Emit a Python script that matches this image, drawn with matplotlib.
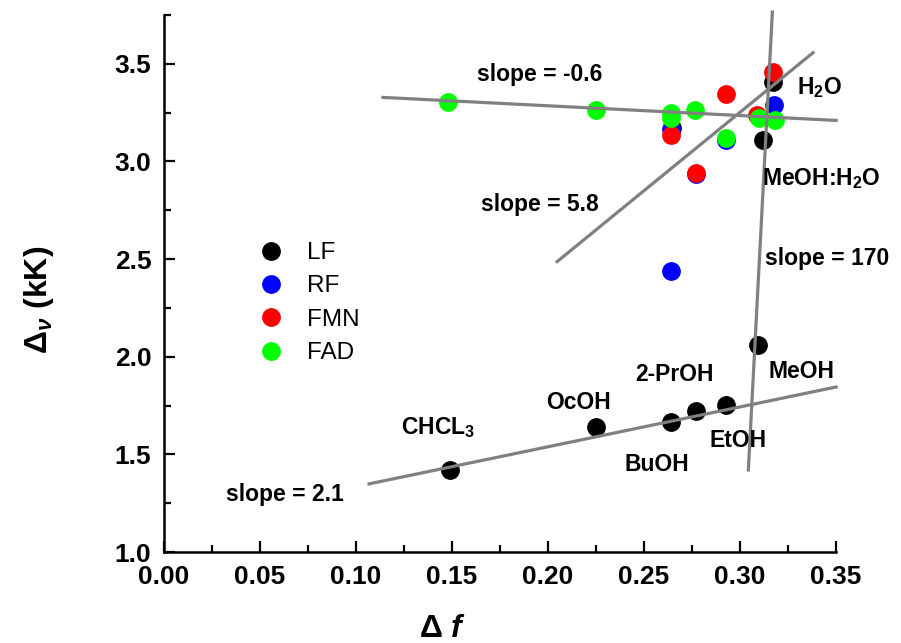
import numpy as np
import matplotlib
matplotlib.use('Agg')
import matplotlib.pyplot as plt
from matplotlib.ticker import MultipleLocator, FormatStrFormatter

plt.rcParams['font.family'] = ['Liberation Sans', 'DejaVu Sans']
plt.rcParams['mathtext.fontset'] = 'custom'
plt.rcParams['mathtext.rm'] = 'Liberation Sans:bold'
plt.rcParams['mathtext.it'] = 'Liberation Sans:bold:italic'
plt.rcParams['mathtext.bf'] = 'Liberation Sans:bold'

# data (delta f, delta nu in kK)
lf_x = [0.149, 0.225, 0.264, 0.2645, 0.277, 0.2925, 0.3095, 0.312, 0.317]
lf_y = [1.42, 1.64, 1.668, 3.17, 1.723, 1.754, 2.06, 3.109, 3.407]

rf_x = [0.264, 0.264, 0.277, 0.2925, 0.3175]
rf_y = [3.165, 2.441, 2.935, 3.11, 3.287]

fmn_x = [0.264, 0.277, 0.2925, 0.309, 0.317]
fmn_y = [3.133, 2.942, 3.343, 3.237, 3.46]

fad_x = [0.148, 0.225, 0.264, 0.264, 0.2765, 0.2925, 0.31, 0.318]
fad_y = [3.306, 3.263, 3.246, 3.22, 3.263, 3.118, 3.224, 3.21]

# fitted lines (end points)
fit_lines = {
    'slope = -0.6': ([0.114, 0.35], [3.328, 3.21]),
    'slope = 5.8': ([0.2047, 0.338], [2.487, 3.557]),
    'slope = 170': ([0.3043, 0.3168], [1.42, 3.765]),
    'slope = 2.1': ([0.1068, 0.35], [1.349, 1.845]),
}
slope_pos = {
    'slope = -0.6': (0.1958, 3.446, 'center'),
    'slope = 5.8': (0.1958, 2.78, 'center'),
    'slope = 170': (0.313, 2.503, 'left'),
    'slope = 2.1': (0.063, 1.297, 'center'),
}

solvent_labels = ['H$_2$O', 'MeOH:H$_2$O', 'MeOH', '2-PrOH', 'OcOH',
                  'EtOH', 'BuOH', 'CHCL$_3$']
solvent_x = [0.3297, 0.3115, 0.3146, 0.266, 0.216, 0.299, 0.2568, 0.1427]
solvent_y = [3.38, 2.91, 1.923, 1.908, 1.764, 1.569, 1.446, 1.636]
solvent_ha = ['left', 'left', 'left', 'center', 'center', 'center',
              'center', 'center']

fig = plt.figure(figsize=(9.01, 6.43), dpi=100)
ax = fig.add_axes([0.182, 0.1415, 0.746, 0.8352])

ms = 12.5
ax.plot(lf_x, lf_y, 'o', color='black', ms=ms, label='LF', zorder=2)
ax.plot(rf_x, rf_y, 'o', color='blue', ms=ms, label='RF', zorder=2)
ax.plot(fmn_x, fmn_y, 'o', color='red', ms=ms, label='FMN', zorder=2)
ax.plot(fad_x, fad_y, 'o', color='#00ff00', ms=ms, label='FAD', zorder=2)

for name, (xs, ys) in fit_lines.items():
    ax.plot(xs, ys, color='#808080', lw=2.3, zorder=3, clip_on=False)
    tx, ty, ha = slope_pos[name]
    ax.text(tx, ty, name, ha=ha, va='center', fontsize=16.5,
            fontweight='bold')

for lab, x, y, ha in zip(solvent_labels, solvent_x, solvent_y, solvent_ha):
    ax.text(x, y, lab, ha=ha, va='center', fontsize=16.5, fontweight='bold')

ax.set_xlim(0, 0.35)
ax.set_ylim(1.0, 3.75)
ax.xaxis.set_major_locator(MultipleLocator(0.05))
ax.xaxis.set_minor_locator(MultipleLocator(0.025))
ax.yaxis.set_major_locator(MultipleLocator(0.5))
ax.yaxis.set_minor_locator(MultipleLocator(0.25))
ax.xaxis.set_major_formatter(FormatStrFormatter('%.2f'))
ax.yaxis.set_major_formatter(FormatStrFormatter('%.1f'))

for s in ['top', 'right']:
    ax.spines[s].set_visible(False)
for s in ['left', 'bottom']:
    ax.spines[s].set_linewidth(1.8)

ax.tick_params(which='major', direction='in', length=8, width=1.6,
               labelsize=19, pad=9)
ax.tick_params(which='minor', direction='in', length=5, width=1.6)
for lbl in ax.get_xticklabels() + ax.get_yticklabels():
    lbl.set_fontweight('bold')

ax.set_xlabel(r'$\Delta$ $f$', fontsize=23)
ax.set_ylabel(r'$\Delta_{\nu}$ (kK)', fontsize=23, fontweight='bold')
ax.xaxis.set_label_coords(0.415, -0.115)
ax.yaxis.set_label_coords(-0.16, 0.47)

leg = ax.legend(loc='upper left', bbox_to_anchor=(0.108, 0.618), frameon=False,
                fontsize=17.5, handletextpad=1.0, labelspacing=0.47,
                handlelength=1.0)

fig.savefig('out.png', dpi=100)
